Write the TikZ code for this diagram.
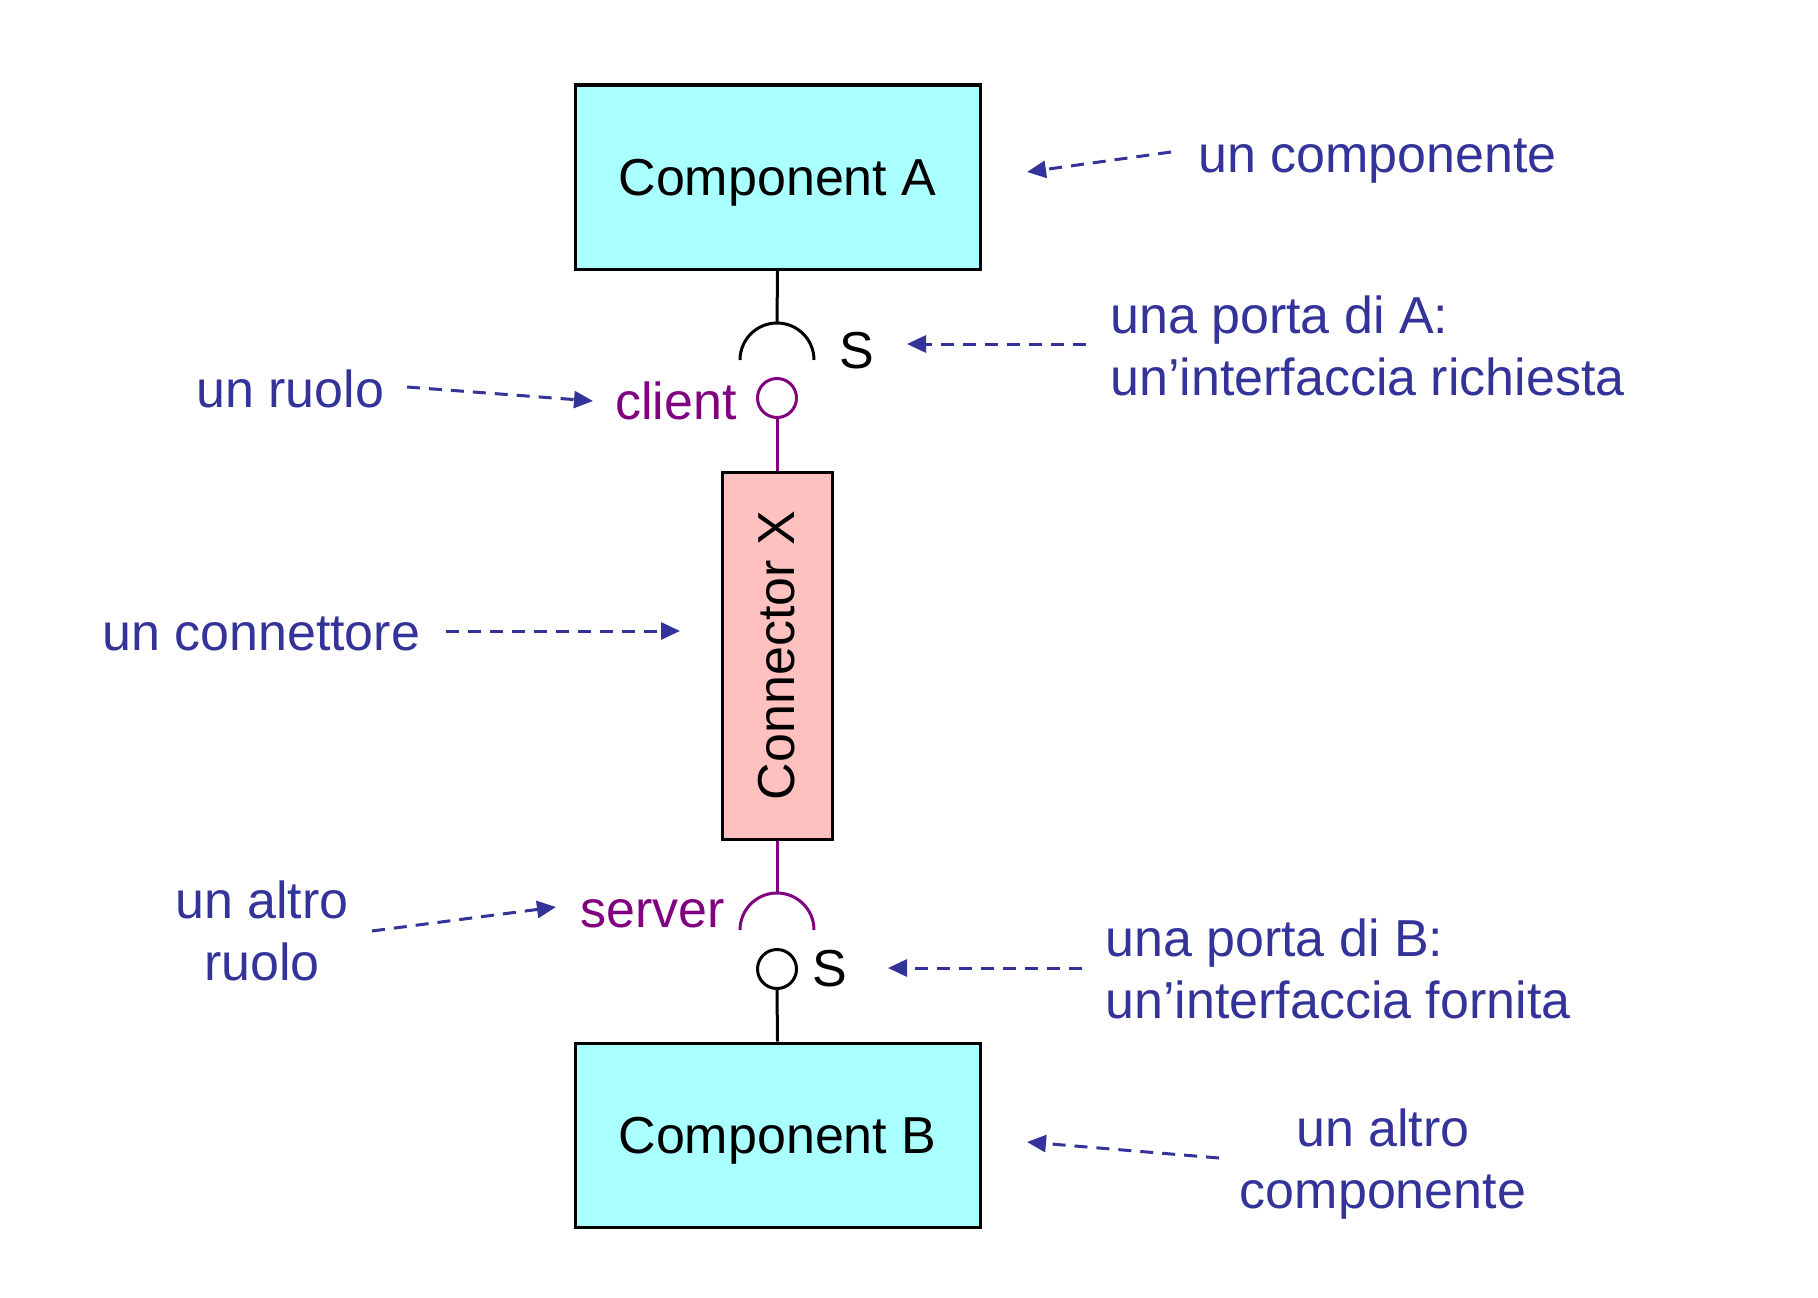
\documentclass[tikz,border=0pt]{standalone}
\usepackage{fontspec}
\setmainfont{Liberation Sans}
\usepackage{graphicx}
\usetikzlibrary{arrows.meta}
\definecolor{noteblue}{RGB}{51,51,153}
\definecolor{rolepurple}{RGB}{128,0,128}
\definecolor{compcyan}{RGB}{170,255,255}
\definecolor{connpink}{RGB}{255,192,192}
\tikzset{
  big/.style={font=\fontsize{52}{62}\selectfont, inner sep=0pt},
  compbox/.style={draw=black, line width=3pt, fill=compcyan, minimum width=405pt, minimum height=184pt, big, text depth=0pt},
  connbox/.style={draw=black, line width=3pt, fill=connpink, minimum width=110pt, minimum height=367pt, inner sep=0pt},
  ball/.style={circle, draw, line width=3pt, fill=white, minimum size=39pt, inner sep=0pt},
  wire/.style={line width=3pt},
  note/.style={big, text=noteblue},
  rolelbl/.style={big, text=rolepurple},
  notearrow/.style={draw=noteblue, line width=3pt, dash pattern=on 13pt off 9pt, -{Triangle[length=19pt,width=17pt]}}
}
\begin{document}
\begin{tikzpicture}[x=1pt,y=-1pt]
\useasboundingbox (0,0) rectangle (1818,1298);
% components and connector
\node[compbox] (A) at (777.5,177) {Component A};
\node[compbox] (B) at (777.5,1135) {Component B};
\node[connbox] (X) at (777,655.5) {};
\node[big] (Xlbl) at (X.center) {\rotatebox{90}{Connector X}};
% port of A: required interface (socket)
\coordinate (sA) at (777,360);
\coordinate (sAtop) at (777,323);
\draw[wire] (A.south) -- (sAtop);
\draw[wire] ([xshift=-37pt]sA) arc[start angle=180, end angle=0, radius=37pt];
\node[big, anchor=base west] (SA) at (839,368) {S};
% client role (ball)
\node[ball, draw=rolepurple] (bA) at (777,398) {};
\draw[wire, rolepurple] (bA.south) -- (X.north);
\node[rolelbl, anchor=base east] (client) at (737,419) {client};
% server role (socket)
\coordinate (sB) at (777,930);
\coordinate (sBtop) at (777,893);
\draw[wire, rolepurple] (X.south) -- (sBtop);
\draw[wire, rolepurple] ([xshift=-37pt]sB) arc[start angle=180, end angle=0, radius=37pt];
\node[rolelbl, anchor=base east] (server) at (725,927) {server};
% port of B: provided interface (ball)
\node[ball, draw=black] (bB) at (777,969) {};
\draw[wire] (bB.south) -- (B.north);
\node[big, anchor=base west] (SB) at (812,986) {S};
% notes
\node[note, anchor=base west] (n1) at (1198,172) {un componente};
\node[note, anchor=base west, align=left] (n2) at (1110,395) {una porta di A:\\un’interfaccia richiesta};
\node[note, anchor=base west] (n3) at (196,407) {un ruolo};
\node[note, anchor=base west] (n4) at (102,650) {un connettore};
\node[note, anchor=base, align=center] (n5) at (262,980) {un altro\\ruolo};
\node[note, anchor=base west, align=left] (n6) at (1105,1018) {una porta di B:\\un’interfaccia fornita};
\node[note, anchor=base, align=center] (n7) at (1383,1208) {un altro\\componente};
% arrow end points
\coordinate (a1s) at (1171,152); \coordinate (a1e) at (1027,172);
\coordinate (a2s) at (1086,344); \coordinate (a2e) at (907,344);
\coordinate (a3s) at (407,387);  \coordinate (a3e) at (593,401);
\coordinate (a4s) at (446,631);  \coordinate (a4e) at (680,631);
\coordinate (a5s) at (372,931);  \coordinate (a5e) at (556,907);
\coordinate (a6s) at (1082,968); \coordinate (a6e) at (888,968);
\coordinate (a7s) at (1219,1158); \coordinate (a7e) at (1027,1142);
\draw[notearrow] (a1s) -- (a1e);
\draw[notearrow] (a2s) -- (a2e);
\draw[notearrow] (a3s) -- (a3e);
\draw[notearrow] (a4s) -- (a4e);
\draw[notearrow] (a5s) -- (a5e);
\draw[notearrow] (a6s) -- (a6e);
\draw[notearrow] (a7s) -- (a7e);
\end{tikzpicture}
\end{document}
